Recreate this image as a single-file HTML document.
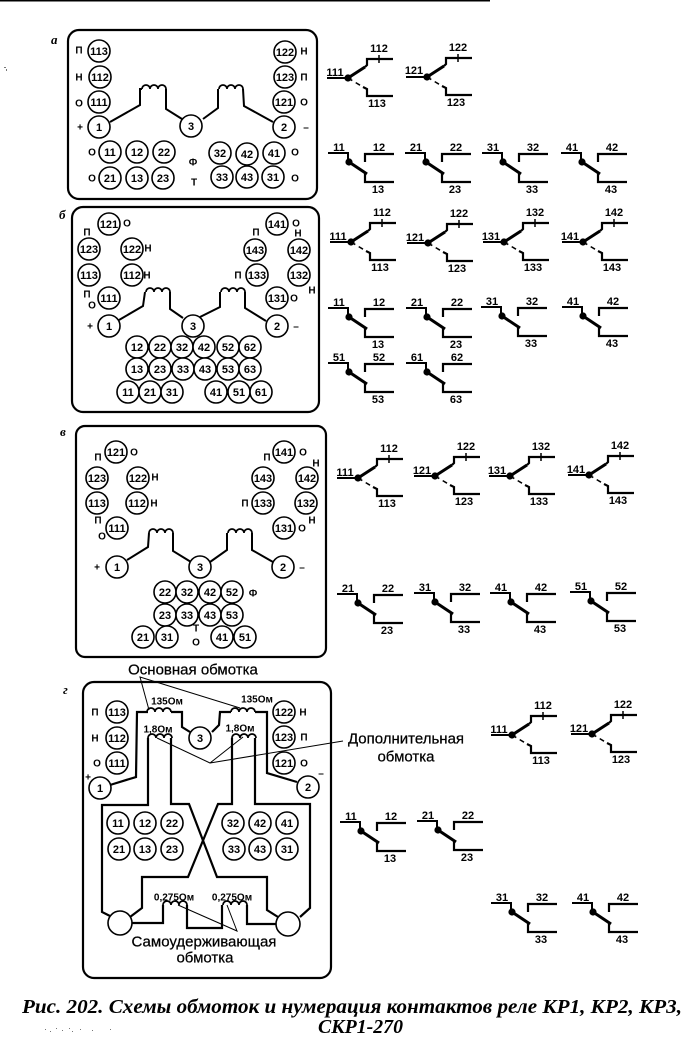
<!DOCTYPE html>
<html lang="ru">
<head>
<meta charset="utf-8">
<title>Рис. 202</title>
<style>
html,body{margin:0;padding:0;background:#fff;width:700px;height:1055px;overflow:hidden}
svg{display:block}
text{font-family:"Liberation Sans",sans-serif;fill:#000}
.w{fill:none;stroke:#000;stroke-width:2;stroke-linejoin:miter}
.b{fill:none;stroke:#000;stroke-width:2.2}
.l{fill:none;stroke:#000;stroke-width:1}
.c circle{fill:#fff;stroke:#000;stroke-width:1.6}
.n text,.c text{font-size:11px;font-weight:bold;text-anchor:middle}
.n text{font-size:10px;text-transform:uppercase}
.t text{font-size:10px;font-weight:bold;text-anchor:middle}
.h text{font-size:15px;text-anchor:middle;stroke:#000;stroke-width:.25}
.s text{font-size:11px;font-weight:bold;text-anchor:middle}
.i{font-family:"Liberation Serif",serif;font-style:italic;font-weight:bold;font-size:13px}
.cap{font-family:"Liberation Serif",serif;font-style:italic;font-weight:bold;font-size:20px}
</style>
</head>
<body>
<svg width="700" height="1055" viewBox="0 0 700 1055" xmlns="http://www.w3.org/2000/svg">
<defs>
<g id="y">
<path d="M-21 0H0" fill="none" stroke="#000" stroke-width="2"/>
<path d="M0 0L17-11" fill="none" stroke="#000" stroke-width="3"/>
<path d="M17-11L19-13V-19H45" fill="none" stroke="#000" stroke-width="2.2"/>
<path d="M31-23V-15" fill="none" stroke="#000" stroke-width="1.5"/>
<path d="M0 0L15 9" fill="none" stroke="#000" stroke-width="1.5" stroke-dasharray="5 4"/>
<path d="M15 9L19 11V18H45" fill="none" stroke="#000" stroke-width="2.2"/>
<circle r="3.6" fill="#000"/>
</g>
<g id="s">
<path d="M-21-9H-1V0" fill="none" stroke="#000" stroke-width="2"/>
<path d="M0 0L18 12" fill="none" stroke="#000" stroke-width="3"/>
<path d="M16 11V20H45" fill="none" stroke="#000" stroke-width="2.2"/>
<path d="M16 0V-8H45" fill="none" stroke="#000" stroke-width="2.2"/>
<circle r="3.6" fill="#000"/>
</g>
<path id="hump" d="M0 0a4 4 0 0 1 8 0a4 4 0 0 1 8 0a4 4 0 0 1 8 0" fill="none" stroke="#000" stroke-width="1.8"/>
</defs>

<rect width="490" height="1.5" x="0" y="0" fill="#000"/>

<!-- Panel frames -->
<rect x="68" y="30" width="249" height="169" rx="11" fill="none" stroke="#000" stroke-width="2.2"/>
<rect x="72" y="207" width="247" height="205" rx="11" fill="none" stroke="#000" stroke-width="2.2"/>
<rect x="76" y="426" width="250" height="231" rx="9" fill="none" stroke="#000" stroke-width="2.2"/>
<rect x="83" y="682" width="248" height="296" rx="11" fill="none" stroke="#000" stroke-width="2.2"/>

<!-- Panel letters -->
<text class="i" x="51" y="44">а</text>
<text class="i" x="59" y="219">б</text>
<text class="i" x="60" y="436">в</text>
<text class="i" x="63" y="694">г</text>

<!-- Panel a wires -->
<path class="w" d="M110 122L140 105V89H142"/>
<use href="#hump" x="142" y="89"/>
<path class="w" d="M166 89V109L182 119"/>
<path class="w" d="M203 119L218 108V89"/>
<use href="#hump" x="219" y="89"/>
<path class="w" d="M243 89L244 106L273 122"/>
<g class="c">
<circle cx="99" cy="51" r="11"/><text x="99" y="51" dy=".35em">113</text>
<circle cx="100" cy="77" r="11"/><text x="100" y="77" dy=".35em">112</text>
<circle cx="99" cy="102" r="11"/><text x="99" y="102" dy=".35em">111</text>
<circle cx="99" cy="127" r="11"/><text x="99" y="127" dy=".35em">1</text>
<circle cx="191" cy="126" r="11"/><text x="191" y="126" dy=".35em">3</text>
<circle cx="284" cy="127" r="11"/><text x="284" y="127" dy=".35em">2</text>
<circle cx="285" cy="52" r="11"/><text x="285" y="52" dy=".35em">122</text>
<circle cx="285" cy="77" r="11"/><text x="285" y="77" dy=".35em">123</text>
<circle cx="284" cy="102" r="11"/><text x="284" y="102" dy=".35em">121</text>
<circle cx="110" cy="152" r="11"/><text x="110" y="152" dy=".35em">11</text>
<circle cx="137" cy="152" r="11"/><text x="137" y="152" dy=".35em">12</text>
<circle cx="164" cy="152" r="11"/><text x="164" y="152" dy=".35em">22</text>
<circle cx="110" cy="178" r="11"/><text x="110" y="178" dy=".35em">21</text>
<circle cx="137" cy="178" r="11"/><text x="137" y="178" dy=".35em">13</text>
<circle cx="163" cy="178" r="11"/><text x="163" y="178" dy=".35em">23</text>
<circle cx="220" cy="153" r="11"/><text x="220" y="153" dy=".35em">32</text>
<circle cx="247" cy="154" r="11"/><text x="247" y="154" dy=".35em">42</text>
<circle cx="274" cy="153" r="11"/><text x="274" y="153" dy=".35em">41</text>
<circle cx="222" cy="177" r="11"/><text x="222" y="177" dy=".35em">33</text>
<circle cx="247" cy="177" r="11"/><text x="247" y="177" dy=".35em">43</text>
<circle cx="273" cy="177" r="11"/><text x="273" y="177" dy=".35em">31</text>
</g>
<g class="n">
<text x="79" y="50" dy=".35em">п</text><text x="79" y="77" dy=".35em">н</text><text x="79" y="103" dy=".35em">о</text><text x="80" y="127" dy=".35em">+</text>
<text x="92" y="152" dy=".35em">о</text><text x="92" y="178" dy=".35em">о</text>
<text x="193" y="162" dy=".35em">ф</text><text x="194" y="182" dy=".35em">т</text>
<text x="295" y="152" dy=".35em">о</text><text x="295" y="178" dy=".35em">о</text>
<text x="304" y="51" dy=".35em">н</text><text x="304" y="77" dy=".35em">п</text><text x="304" y="102" dy=".35em">о</text><text x="306" y="127" dy=".35em">–</text>
</g>

<!-- Panel b wires -->
<path class="w" d="M119 320L143 306L145 292"/>
<use href="#hump" x="146" y="292"/>
<path class="w" d="M170 292V309L183 318"/>
<path class="w" d="M200 317L220 307V292"/>
<use href="#hump" x="221" y="292"/>
<path class="w" d="M245 292V308L266 321"/>
<g class="c">
<circle cx="109" cy="224" r="11"/><text x="109" y="224" dy=".35em">121</text>
<circle cx="89" cy="249" r="11"/><text x="89" y="249" dy=".35em">123</text>
<circle cx="132" cy="249" r="11"/><text x="132" y="249" dy=".35em">122</text>
<circle cx="89" cy="275" r="11"/><text x="89" y="275" dy=".35em">113</text>
<circle cx="132" cy="275" r="11"/><text x="132" y="275" dy=".35em">112</text>
<circle cx="109" cy="298" r="11"/><text x="109" y="298" dy=".35em">111</text>
<circle cx="109" cy="326" r="11"/><text x="109" y="326" dy=".35em">1</text>
<circle cx="193" cy="326" r="11"/><text x="193" y="326" dy=".35em">3</text>
<circle cx="277" cy="326" r="11"/><text x="277" y="326" dy=".35em">2</text>
<circle cx="277" cy="224" r="11"/><text x="277" y="224" dy=".35em">141</text>
<circle cx="255" cy="250" r="11"/><text x="255" y="250" dy=".35em">143</text>
<circle cx="299" cy="250" r="11"/><text x="299" y="250" dy=".35em">142</text>
<circle cx="257" cy="275" r="11"/><text x="257" y="275" dy=".35em">133</text>
<circle cx="299" cy="275" r="11"/><text x="299" y="275" dy=".35em">132</text>
<circle cx="277" cy="298" r="11"/><text x="277" y="298" dy=".35em">131</text>
<circle cx="137" cy="347" r="11"/><text x="137" y="347" dy=".35em">12</text>
<circle cx="160" cy="347" r="11"/><text x="160" y="347" dy=".35em">22</text>
<circle cx="182" cy="347" r="11"/><text x="182" y="347" dy=".35em">32</text>
<circle cx="204" cy="347" r="11"/><text x="204" y="347" dy=".35em">42</text>
<circle cx="228" cy="347" r="11"/><text x="228" y="347" dy=".35em">52</text>
<circle cx="250" cy="347" r="11"/><text x="250" y="347" dy=".35em">62</text>
<circle cx="137" cy="369" r="11"/><text x="137" y="369" dy=".35em">13</text>
<circle cx="160" cy="369" r="11"/><text x="160" y="369" dy=".35em">23</text>
<circle cx="183" cy="369" r="11"/><text x="183" y="369" dy=".35em">33</text>
<circle cx="205" cy="369" r="11"/><text x="205" y="369" dy=".35em">43</text>
<circle cx="228" cy="369" r="11"/><text x="228" y="369" dy=".35em">53</text>
<circle cx="250" cy="369" r="11"/><text x="250" y="369" dy=".35em">63</text>
<circle cx="128" cy="392" r="11"/><text x="128" y="392" dy=".35em">11</text>
<circle cx="150" cy="392" r="11"/><text x="150" y="392" dy=".35em">21</text>
<circle cx="172" cy="392" r="11"/><text x="172" y="392" dy=".35em">31</text>
<circle cx="216" cy="392" r="11"/><text x="216" y="392" dy=".35em">41</text>
<circle cx="239" cy="392" r="11"/><text x="239" y="392" dy=".35em">51</text>
<circle cx="261" cy="392" r="11"/><text x="261" y="392" dy=".35em">61</text>
</g>
<g class="n">
<text x="127" y="223" dy=".35em">о</text><text x="87" y="232" dy=".35em">п</text><text x="148" y="248" dy=".35em">н</text><text x="147" y="275" dy=".35em">н</text>
<text x="87" y="294" dy=".35em">п</text><text x="92" y="305" dy=".35em">о</text><text x="90" y="326" dy=".35em">+</text>
<text x="256" y="232" dy=".35em">п</text><text x="296" y="223" dy=".35em">о</text><text x="298" y="233" dy=".35em">н</text>
<text x="238" y="275" dy=".35em">п</text><text x="312" y="290" dy=".35em">н</text><text x="294" y="298" dy=".35em">о</text><text x="296" y="326" dy=".35em">–</text>
</g>

<!-- Panel v wires -->
<path class="w" d="M127 560L148 547L149 533"/>
<use href="#hump" x="149" y="533"/>
<path class="w" d="M173 533V551L191 562"/>
<path class="w" d="M210 562L227 550V533"/>
<use href="#hump" x="228" y="533"/>
<path class="w" d="M252 533V550L273 562"/>
<g class="c">
<circle cx="116" cy="452" r="11"/><text x="116" y="452" dy=".35em">121</text>
<circle cx="97" cy="478" r="11"/><text x="97" y="478" dy=".35em">123</text>
<circle cx="138" cy="478" r="11"/><text x="138" y="478" dy=".35em">122</text>
<circle cx="97" cy="503" r="11"/><text x="97" y="503" dy=".35em">113</text>
<circle cx="137" cy="503" r="11"/><text x="137" y="503" dy=".35em">112</text>
<circle cx="117" cy="528" r="11"/><text x="117" y="528" dy=".35em">111</text>
<circle cx="117" cy="567" r="11"/><text x="117" y="567" dy=".35em">1</text>
<circle cx="200" cy="567" r="11"/><text x="200" y="567" dy=".35em">3</text>
<circle cx="283" cy="567" r="11"/><text x="283" y="567" dy=".35em">2</text>
<circle cx="284" cy="452" r="11"/><text x="284" y="452" dy=".35em">141</text>
<circle cx="263" cy="478" r="11"/><text x="263" y="478" dy=".35em">143</text>
<circle cx="307" cy="478" r="11"/><text x="307" y="478" dy=".35em">142</text>
<circle cx="263" cy="503" r="11"/><text x="263" y="503" dy=".35em">133</text>
<circle cx="306" cy="503" r="11"/><text x="306" y="503" dy=".35em">132</text>
<circle cx="284" cy="528" r="11"/><text x="284" y="528" dy=".35em">131</text>
<circle cx="165" cy="592" r="11"/><text x="165" y="592" dy=".35em">22</text>
<circle cx="187" cy="592" r="11"/><text x="187" y="592" dy=".35em">32</text>
<circle cx="210" cy="592" r="11"/><text x="210" y="592" dy=".35em">42</text>
<circle cx="232" cy="592" r="11"/><text x="232" y="592" dy=".35em">52</text>
<circle cx="165" cy="615" r="11"/><text x="165" y="615" dy=".35em">23</text>
<circle cx="187" cy="615" r="11"/><text x="187" y="615" dy=".35em">33</text>
<circle cx="210" cy="615" r="11"/><text x="210" y="615" dy=".35em">43</text>
<circle cx="232" cy="615" r="11"/><text x="232" y="615" dy=".35em">53</text>
<circle cx="143" cy="637" r="11"/><text x="143" y="637" dy=".35em">21</text>
<circle cx="167" cy="637" r="11"/><text x="167" y="637" dy=".35em">31</text>
<circle cx="222" cy="637" r="11"/><text x="222" y="637" dy=".35em">41</text>
<circle cx="245" cy="637" r="11"/><text x="245" y="637" dy=".35em">51</text>
</g>
<g class="n">
<text x="98" y="457" dy=".35em">п</text><text x="134" y="452" dy=".35em">о</text><text x="155" y="477" dy=".35em">н</text><text x="154" y="503" dy=".35em">н</text>
<text x="98" y="520" dy=".35em">п</text><text x="102" y="536" dy=".35em">о</text><text x="97" y="567" dy=".35em">+</text><text x="302" y="567" dy=".35em">–</text>
<text x="253" y="593" dy=".35em">ф</text><text x="196" y="628" dy=".35em">т</text><text x="196" y="642" dy=".35em">о</text>
<text x="267" y="457" dy=".35em">п</text><text x="303" y="452" dy=".35em">о</text><text x="316" y="463" dy=".35em">н</text>
<text x="245" y="503" dy=".35em">п</text><text x="312" y="520" dy=".35em">н</text><text x="302" y="528" dy=".35em">о</text>
</g>

<!-- Panel g wires -->
<path class="b" d="M110 785L136 777L137 712H148"/>
<use href="#hump" x="148" y="712" transform="translate(-1 0)"/>
<path class="b" d="M171 712H182V727L190 732"/>
<path class="b" d="M212 732L219 725L220 712H231"/>
<use href="#hump" x="231" y="712"/>
<path class="b" d="M255 712H267V773L297 782"/>
<path class="b" d="M148 738V805H102V912L112 917"/>
<use href="#hump" x="148" y="738"/>
<path class="b" d="M171 738V804H189L217 877H267V910L278 917"/>
<use href="#hump" x="232" y="738"/>
<path class="b" d="M232 738V804H218L188 877H142V908L130 917"/>
<path class="b" d="M255 738V804H310V908L300 917"/>
<path class="b" d="M132 923H163V905"/>
<use href="#hump" x="163" y="905"/>
<path class="b" d="M187 905V928H222V905"/>
<use href="#hump" x="223" y="905"/>
<path class="b" d="M247 905V924H277"/>
<path class="l" d="M149 710L140 677L240 708"/>
<path class="l" d="M157 738L210 763L243 737M210 763L343 741"/>
<path class="l" d="M178 905L237 931L227 905"/>
<g class="c">
<circle cx="117" cy="712" r="11"/><text x="117" y="712" dy=".35em">113</text>
<circle cx="117" cy="738" r="11"/><text x="117" y="738" dy=".35em">112</text>
<circle cx="117" cy="763" r="11"/><text x="117" y="763" dy=".35em">111</text>
<circle cx="100" cy="788" r="11"/><text x="100" y="788" dy=".35em">1</text>
<circle cx="200" cy="738" r="11"/><text x="200" y="738" dy=".35em">3</text>
<circle cx="308" cy="787" r="11"/><text x="308" y="787" dy=".35em">2</text>
<circle cx="284" cy="712" r="11"/><text x="284" y="712" dy=".35em">122</text>
<circle cx="284" cy="737" r="11"/><text x="284" y="737" dy=".35em">123</text>
<circle cx="284" cy="763" r="11"/><text x="284" y="763" dy=".35em">121</text>
<circle cx="118" cy="823" r="11"/><text x="118" y="823" dy=".35em">11</text>
<circle cx="145" cy="823" r="11"/><text x="145" y="823" dy=".35em">12</text>
<circle cx="172" cy="823" r="11"/><text x="172" y="823" dy=".35em">22</text>
<circle cx="233" cy="823" r="11"/><text x="233" y="823" dy=".35em">32</text>
<circle cx="260" cy="823" r="11"/><text x="260" y="823" dy=".35em">42</text>
<circle cx="287" cy="823" r="11"/><text x="287" y="823" dy=".35em">41</text>
<circle cx="119" cy="849" r="11"/><text x="119" y="849" dy=".35em">21</text>
<circle cx="145" cy="849" r="11"/><text x="145" y="849" dy=".35em">13</text>
<circle cx="172" cy="849" r="11"/><text x="172" y="849" dy=".35em">23</text>
<circle cx="234" cy="849" r="11"/><text x="234" y="849" dy=".35em">33</text>
<circle cx="260" cy="849" r="11"/><text x="260" y="849" dy=".35em">43</text>
<circle cx="287" cy="849" r="11"/><text x="287" y="849" dy=".35em">31</text>
<circle cx="120" cy="923" r="12"/>
<circle cx="288" cy="924" r="12"/>
</g>
<g class="n">
<text x="95" y="712" dy=".35em">п</text><text x="95" y="738" dy=".35em">н</text><text x="97" y="763" dy=".35em">о</text><text x="88" y="777" dy=".35em">+</text>
<text x="303" y="712" dy=".35em">н</text><text x="304" y="737" dy=".35em">п</text><text x="304" y="763" dy=".35em">о</text><text x="321" y="773" dy=".35em">–</text>
</g>
<g class="t">
<text x="167" y="701" dy=".35em">135Ом</text><text x="257" y="699" dy=".35em">135Ом</text>
<text x="158" y="729" dy=".35em">1,8Ом</text><text x="240" y="728" dy=".35em">1,8Ом</text>
<text x="174" y="897" dy=".35em">0,275Ом</text><text x="232" y="897" dy=".35em">0,275Ом</text>
</g>
<g class="h">
<text x="193" y="669" dy=".35em">Основная обмотка</text>
<text x="406" y="738" dy=".35em">Дополнительная</text>
<text x="406" y="756" dy=".35em">обмотка</text>
<text x="204" y="941" dy=".35em">Самоудерживающая</text>
<text x="205" y="957" dy=".35em">обмотка</text>
</g>

<!-- Changeover contacts -->
<use href="#y" x="348" y="78"/><use href="#y" x="427" y="77"/>
<use href="#y" x="351" y="242"/><use href="#y" x="428" y="243"/><use href="#y" x="504" y="242"/><use href="#y" x="583" y="242"/>
<use href="#y" x="358" y="478"/><use href="#y" x="435" y="476"/><use href="#y" x="510" y="476"/><use href="#y" x="589" y="475"/>
<use href="#y" x="512" y="735"/><use href="#y" x="592" y="734"/>

<!-- Normal contacts -->
<use href="#s" x="349" y="162"/><use href="#s" x="426" y="162"/><use href="#s" x="503" y="162"/><use href="#s" x="582" y="162"/>
<use href="#s" x="349" y="317"/><use href="#s" x="427" y="317"/><use href="#s" x="502" y="316"/><use href="#s" x="583" y="316"/>
<use href="#s" x="349" y="372"/><use href="#s" x="427" y="372"/>
<use href="#s" x="358" y="603"/><use href="#s" x="435" y="602"/><use href="#s" x="511" y="602"/><use href="#s" x="591" y="601"/>
<use href="#s" x="361" y="831"/><use href="#s" x="438" y="830"/><use href="#s" x="512" y="912"/><use href="#s" x="593" y="912"/>

<g class="s">
<text x="335" y="72" dy=".35em">111</text><text x="379" y="48" dy=".35em">112</text><text x="377" y="103" dy=".35em">113</text>
<text x="414" y="70" dy=".35em">121</text><text x="458" y="47" dy=".35em">122</text><text x="456" y="102" dy=".35em">123</text>

<text x="338" y="236" dy=".35em">111</text><text x="382" y="212" dy=".35em">112</text><text x="380" y="267" dy=".35em">113</text>
<text x="415" y="237" dy=".35em">121</text><text x="459" y="213" dy=".35em">122</text><text x="457" y="268" dy=".35em">123</text>
<text x="491" y="236" dy=".35em">131</text><text x="535" y="212" dy=".35em">132</text><text x="533" y="267" dy=".35em">133</text>
<text x="570" y="236" dy=".35em">141</text><text x="614" y="212" dy=".35em">142</text><text x="612" y="267" dy=".35em">143</text>

<text x="345" y="472" dy=".35em">111</text><text x="389" y="448" dy=".35em">112</text><text x="387" y="503" dy=".35em">113</text>
<text x="422" y="470" dy=".35em">121</text><text x="466" y="446" dy=".35em">122</text><text x="464" y="501" dy=".35em">123</text>
<text x="497" y="470" dy=".35em">131</text><text x="541" y="446" dy=".35em">132</text><text x="539" y="501" dy=".35em">133</text>
<text x="576" y="469" dy=".35em">141</text><text x="620" y="445" dy=".35em">142</text><text x="618" y="500" dy=".35em">143</text>

<text x="499" y="729" dy=".35em">111</text><text x="543" y="705" dy=".35em">112</text><text x="541" y="760" dy=".35em">113</text>
<text x="579" y="728" dy=".35em">121</text><text x="623" y="704" dy=".35em">122</text><text x="621" y="759" dy=".35em">123</text>

<text x="339" y="147" dy=".35em">11</text><text x="379" y="147" dy=".35em">12</text><text x="378" y="189" dy=".35em">13</text>
<text x="416" y="147" dy=".35em">21</text><text x="456" y="147" dy=".35em">22</text><text x="455" y="189" dy=".35em">23</text>
<text x="493" y="147" dy=".35em">31</text><text x="533" y="147" dy=".35em">32</text><text x="532" y="189" dy=".35em">33</text>
<text x="572" y="147" dy=".35em">41</text><text x="612" y="147" dy=".35em">42</text><text x="611" y="189" dy=".35em">43</text>

<text x="339" y="302" dy=".35em">11</text><text x="379" y="302" dy=".35em">12</text><text x="378" y="344" dy=".35em">13</text>
<text x="417" y="302" dy=".35em">21</text><text x="457" y="302" dy=".35em">22</text><text x="456" y="344" dy=".35em">23</text>
<text x="492" y="301" dy=".35em">31</text><text x="532" y="301" dy=".35em">32</text><text x="531" y="343" dy=".35em">33</text>
<text x="573" y="301" dy=".35em">41</text><text x="613" y="301" dy=".35em">42</text><text x="612" y="343" dy=".35em">43</text>

<text x="339" y="357" dy=".35em">51</text><text x="379" y="357" dy=".35em">52</text><text x="378" y="399" dy=".35em">53</text>
<text x="417" y="357" dy=".35em">61</text><text x="457" y="357" dy=".35em">62</text><text x="456" y="399" dy=".35em">63</text>

<text x="348" y="588" dy=".35em">21</text><text x="388" y="588" dy=".35em">22</text><text x="387" y="630" dy=".35em">23</text>
<text x="425" y="587" dy=".35em">31</text><text x="465" y="587" dy=".35em">32</text><text x="464" y="629" dy=".35em">33</text>
<text x="501" y="587" dy=".35em">41</text><text x="541" y="587" dy=".35em">42</text><text x="540" y="629" dy=".35em">43</text>
<text x="581" y="586" dy=".35em">51</text><text x="621" y="586" dy=".35em">52</text><text x="620" y="628" dy=".35em">53</text>

<text x="351" y="816" dy=".35em">11</text><text x="391" y="816" dy=".35em">12</text><text x="390" y="858" dy=".35em">13</text>
<text x="428" y="815" dy=".35em">21</text><text x="468" y="815" dy=".35em">22</text><text x="467" y="857" dy=".35em">23</text>
<text x="502" y="897" dy=".35em">31</text><text x="542" y="897" dy=".35em">32</text><text x="541" y="939" dy=".35em">33</text>
<text x="583" y="897" dy=".35em">41</text><text x="623" y="897" dy=".35em">42</text><text x="622" y="939" dy=".35em">43</text>
</g>

<!-- Caption -->
<text class="cap" x="22" y="1013" textLength="660" lengthAdjust="spacingAndGlyphs">Рис. 202. Схемы обмоток и нумерация контактов реле КР1, КР2, КР3,</text>
<text class="cap" x="318" y="1033" textLength="85" lengthAdjust="spacingAndGlyphs">СКР1-270</text>

<!-- Specks -->
<g fill="#777">
<rect x="45" y="1029" width="1" height="1"/><rect x="50" y="1031" width="1" height="1"/><rect x="56" y="1028" width="1" height="1"/>
<rect x="62" y="1030" width="1" height="1"/><rect x="69" y="1028" width="1" height="1"/><rect x="72" y="1031" width="1" height="1"/>
<rect x="80" y="1029" width="1" height="1"/><rect x="92" y="1030" width="1" height="1"/><rect x="110" y="1029" width="1" height="1"/>
<rect x="4" y="67" width="2" height="1"/><rect x="6" y="69" width="1" height="2"/>
</g>
</svg>
</body>
</html>
